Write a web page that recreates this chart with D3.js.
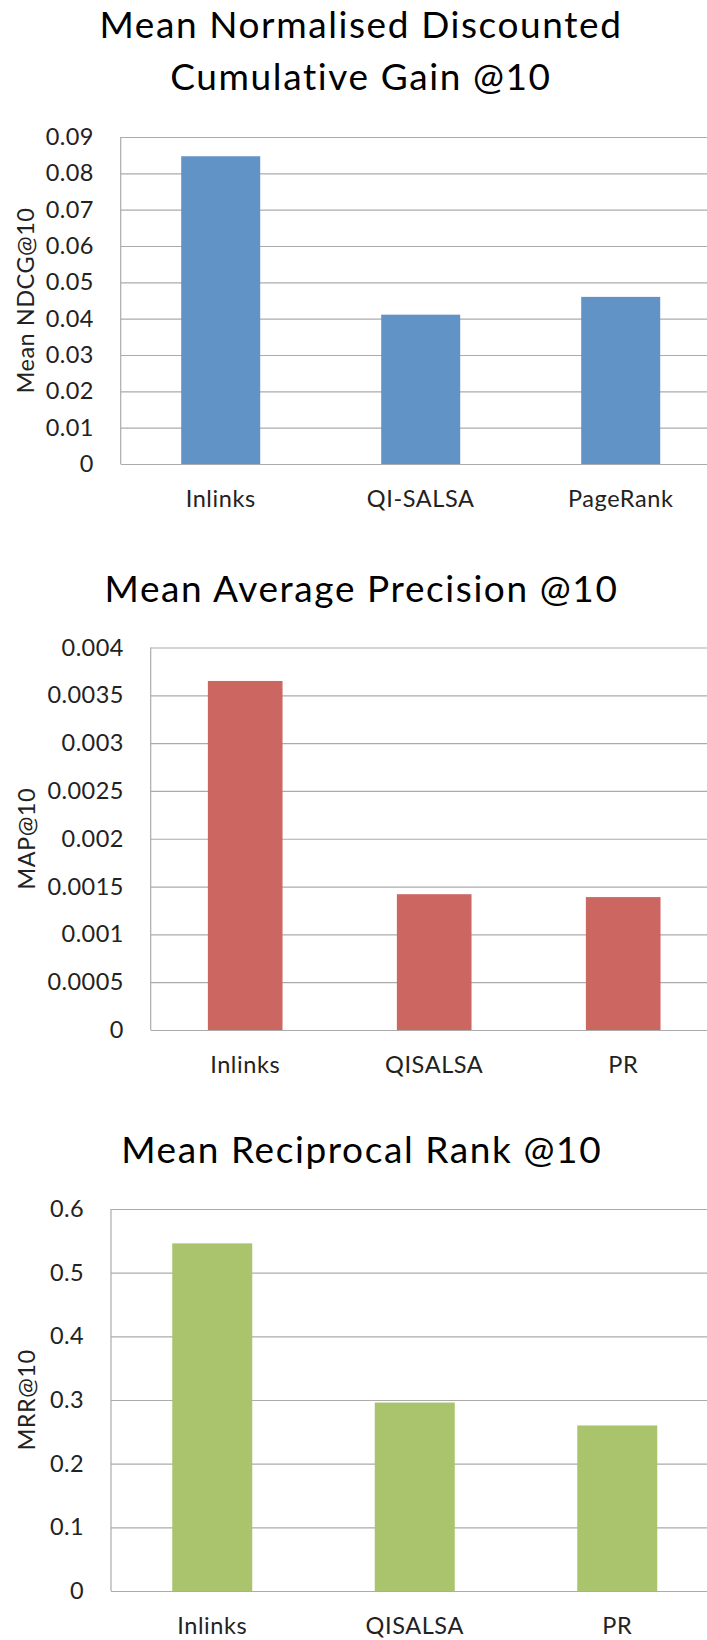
<!DOCTYPE html>
<html>
<head>
<meta charset="utf-8">
<script src="https://cdn.jsdelivr.net/npm/d3@7"></script>
<style>
  html, body { margin: 0; padding: 0; background: #fff; }
  svg { display: block; font-family: Lato, "Open Sans", sans-serif; }
</style>
</head>
<body>
<svg id="chart" width="707" height="1640"></svg>
<script>
// ---- Data ----
const ndcgTitle = ["Mean Normalised Discounted", "Cumulative Gain @10"];
const ndcgCategories = ["Inlinks", "QI-SALSA", "PageRank"];
const ndcgValues = [0.0847, 0.0411, 0.0460];
const ndcgTicks = [0, 0.01, 0.02, 0.03, 0.04, 0.05, 0.06, 0.07, 0.08, 0.09];
const ndcgTickLabels = ["0", "0.01", "0.02", "0.03", "0.04", "0.05", "0.06", "0.07", "0.08", "0.09"];
const ndcgAxisLabel = "Mean NDCG@10";

const mapTitle = ["Mean Average Precision @10"];
const mapCategories = ["Inlinks", "QISALSA", "PR"];
const mapValues = [0.00365, 0.00142, 0.00139];
const mapTicks = [0, 0.0005, 0.001, 0.0015, 0.002, 0.0025, 0.003, 0.0035, 0.004];
const mapTickLabels = ["0", "0.0005", "0.001", "0.0015", "0.002", "0.0025", "0.003", "0.0035", "0.004"];
const mapAxisLabel = "MAP@10";

const mrrTitle = ["Mean Reciprocal Rank @10"];
const mrrCategories = ["Inlinks", "QISALSA", "PR"];
const mrrValues = [0.546, 0.296, 0.260];
const mrrTicks = [0, 0.1, 0.2, 0.3, 0.4, 0.5, 0.6];
const mrrTickLabels = ["0", "0.1", "0.2", "0.3", "0.4", "0.5", "0.6"];
const mrrAxisLabel = "MRR@10";

// ---- Drawing ----
const svg = d3.select("#chart");
const gridColor = "#ababab";
const labelFont = "Lato, 'Open Sans', sans-serif";

function drawChart(cfg) {
  const g = svg.append("g");
  const y = d3.scaleLinear()
    .domain([0, cfg.ticks[cfg.ticks.length - 1]])
    .range([cfg.bottom, cfg.top]);
  const x = d3.scaleBand()
    .domain(cfg.categories)
    .range([cfg.left, cfg.left + cfg.step * cfg.categories.length])
    .paddingInner(0.605)
    .paddingOuter(0.3025);

  // title
  const title = g.append("text")
    .attr("text-anchor", "middle")
    .attr("font-size", 37)
    .attr("letter-spacing", 1.6)
    .attr("fill", "#000");
  cfg.title.forEach((t, i) => {
    title.append("tspan")
      .attr("x", cfg.titleX)
      .attr("y", cfg.titleY + i * 52)
      .text(t);
  });

  // grid lines
  const plotRight = cfg.left + cfg.step * cfg.categories.length;
  const grid = d3.axisLeft(y)
    .tickValues(cfg.ticks)
    .tickSize(-(plotRight - cfg.left))
    .tickFormat("");
  const gg = g.append("g")
    .attr("transform", `translate(${cfg.left},0)`)
    .call(grid);
  gg.select(".domain").remove();
  gg.selectAll(".tick line").attr("stroke", gridColor).attr("stroke-width", 1.2);

  // left axis line
  g.append("line")
    .attr("x1", cfg.left).attr("x2", cfg.left)
    .attr("y1", y.range()[1]).attr("y2", y.range()[0])
    .attr("stroke", gridColor).attr("stroke-width", 1.2);

  // y tick labels
  const yAxis = d3.axisLeft(y)
    .tickValues(cfg.ticks)
    .tickSize(0)
    .tickPadding(27)
    .tickFormat((d, i) => cfg.tickLabels[i]);
  const ya = g.append("g")
    .attr("transform", `translate(${cfg.left},0)`)
    .call(yAxis);
  ya.select(".domain").remove();
  ya.selectAll("text")
    .attr("font-family", labelFont)
    .attr("font-size", 23.5)
    .attr("letter-spacing", 0.4)
    .attr("fill", "#222");

  // bars
  g.selectAll("rect.bar")
    .data(cfg.values)
    .join("rect")
    .attr("class", "bar")
    .attr("x", (d, i) => x(cfg.categories[i]))
    .attr("width", x.bandwidth())
    .attr("y", d => y(d))
    .attr("height", d => y(0) - y(d))
    .attr("fill", cfg.color);

  // x labels
  const xAxis = d3.axisBottom(x).tickSize(0).tickPadding(26);
  const xa = g.append("g")
    .attr("transform", `translate(0,${cfg.bottom})`)
    .call(xAxis);
  xa.select(".domain").remove();
  xa.selectAll("text")
    .attr("font-family", labelFont)
    .attr("font-size", 23.5)
    .attr("letter-spacing", 0.6)
    .attr("fill", "#222");

  // y axis title
  g.append("text")
    .attr("transform", `translate(${cfg.yLabelX},${(cfg.top + cfg.bottom) / 2}) rotate(-90)`)
    .attr("text-anchor", "middle")
    .attr("font-size", 23.5)
    .attr("letter-spacing", 0.5)
    .attr("fill", "#222")
    .text(cfg.axisLabel);
}

drawChart({
  title: ndcgTitle, titleX: 361, titleY: 38,
  categories: ndcgCategories, values: ndcgValues,
  ticks: ndcgTicks, tickLabels: ndcgTickLabels, axisLabel: ndcgAxisLabel,
  left: 120.7, step: 200, top: 137, bottom: 464, yLabelX: 34,
  color: "#6193c7"
});

drawChart({
  title: mapTitle, titleX: 361.5, titleY: 602,
  categories: mapCategories, values: mapValues,
  ticks: mapTicks, tickLabels: mapTickLabels, axisLabel: mapAxisLabel,
  left: 150.7, step: 189, top: 647.5, bottom: 1030, yLabelX: 35,
  color: "#cb6660"
});

drawChart({
  title: mrrTitle, titleX: 361.7, titleY: 1163,
  categories: mrrCategories, values: mrrValues,
  ticks: mrrTicks, tickLabels: mrrTickLabels, axisLabel: mrrAxisLabel,
  left: 111, step: 202.5, top: 1209, bottom: 1591, yLabelX: 35,
  color: "#a9c46c"
});
</script>
</body>
</html>
